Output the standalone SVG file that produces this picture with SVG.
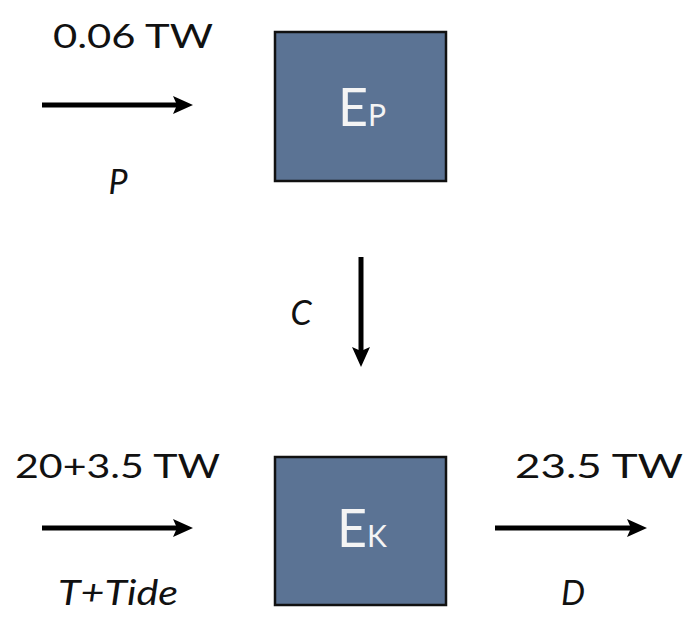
<svg xmlns="http://www.w3.org/2000/svg" width="692" height="621" viewBox="0 0 692 621">
<style>
.box{fill:#5b7394;stroke:#111;stroke-width:2.5}
.lbl{font-family:Lato,"Open Sans","Liberation Sans",sans-serif;fill:#111;font-size:33px;text-anchor:middle}
.it{font-style:italic;font-size:34px}
.nt{font-family:Lato,"Open Sans","Liberation Sans",sans-serif;fill:#f4f4f4;font-size:52px;text-anchor:middle}
.sub{font-size:30px}
.arr{stroke:#000;stroke-width:5;fill:none;marker-end:url(#ah)}
</style>
<defs>
<marker id="ah" markerUnits="userSpaceOnUse" markerWidth="24" markerHeight="20" refX="6" refY="9" orient="auto">
<path d="M0,0 L20,9 L0,18 L4,9 z" fill="#000"/>
</marker>
</defs>
<rect width="692" height="621" fill="#fff"/>
<g id="node-ep">
<rect class="box" x="275" y="32" width="171" height="149"/>
<text class="nt" x="362" y="126">E<tspan class="sub">P</tspan></text>
</g>
<g id="node-ek">
<rect class="box" x="275" y="457" width="171" height="148"/>
<text class="nt" x="362" y="547">E<tspan class="sub">K</tspan></text>
</g>
<g id="connectors">
<line class="arr" x1="42" y1="105" x2="179" y2="105"/>
<line class="arr" x1="361" y1="257" x2="361" y2="353"/>
<line class="arr" x1="42" y1="528" x2="179" y2="528"/>
<line class="arr" x1="495" y1="528" x2="633" y2="528"/>
</g>
<g id="labels">
<text class="lbl" x="133" y="48" textLength="160" lengthAdjust="spacingAndGlyphs">0.06 TW</text>
<text class="lbl it" x="118" y="194">P</text>
<text class="lbl it" x="301" y="325">C</text>
<text class="lbl" x="117.5" y="478" textLength="205" lengthAdjust="spacingAndGlyphs">20+3.5 TW</text>
<text class="lbl it" x="118" y="605" textLength="120" lengthAdjust="spacingAndGlyphs">T+Tide</text>
<text class="lbl" x="599" y="478" textLength="168" lengthAdjust="spacingAndGlyphs">23.5 TW</text>
<text class="lbl it" x="573" y="605">D</text>
</g>
</svg>
